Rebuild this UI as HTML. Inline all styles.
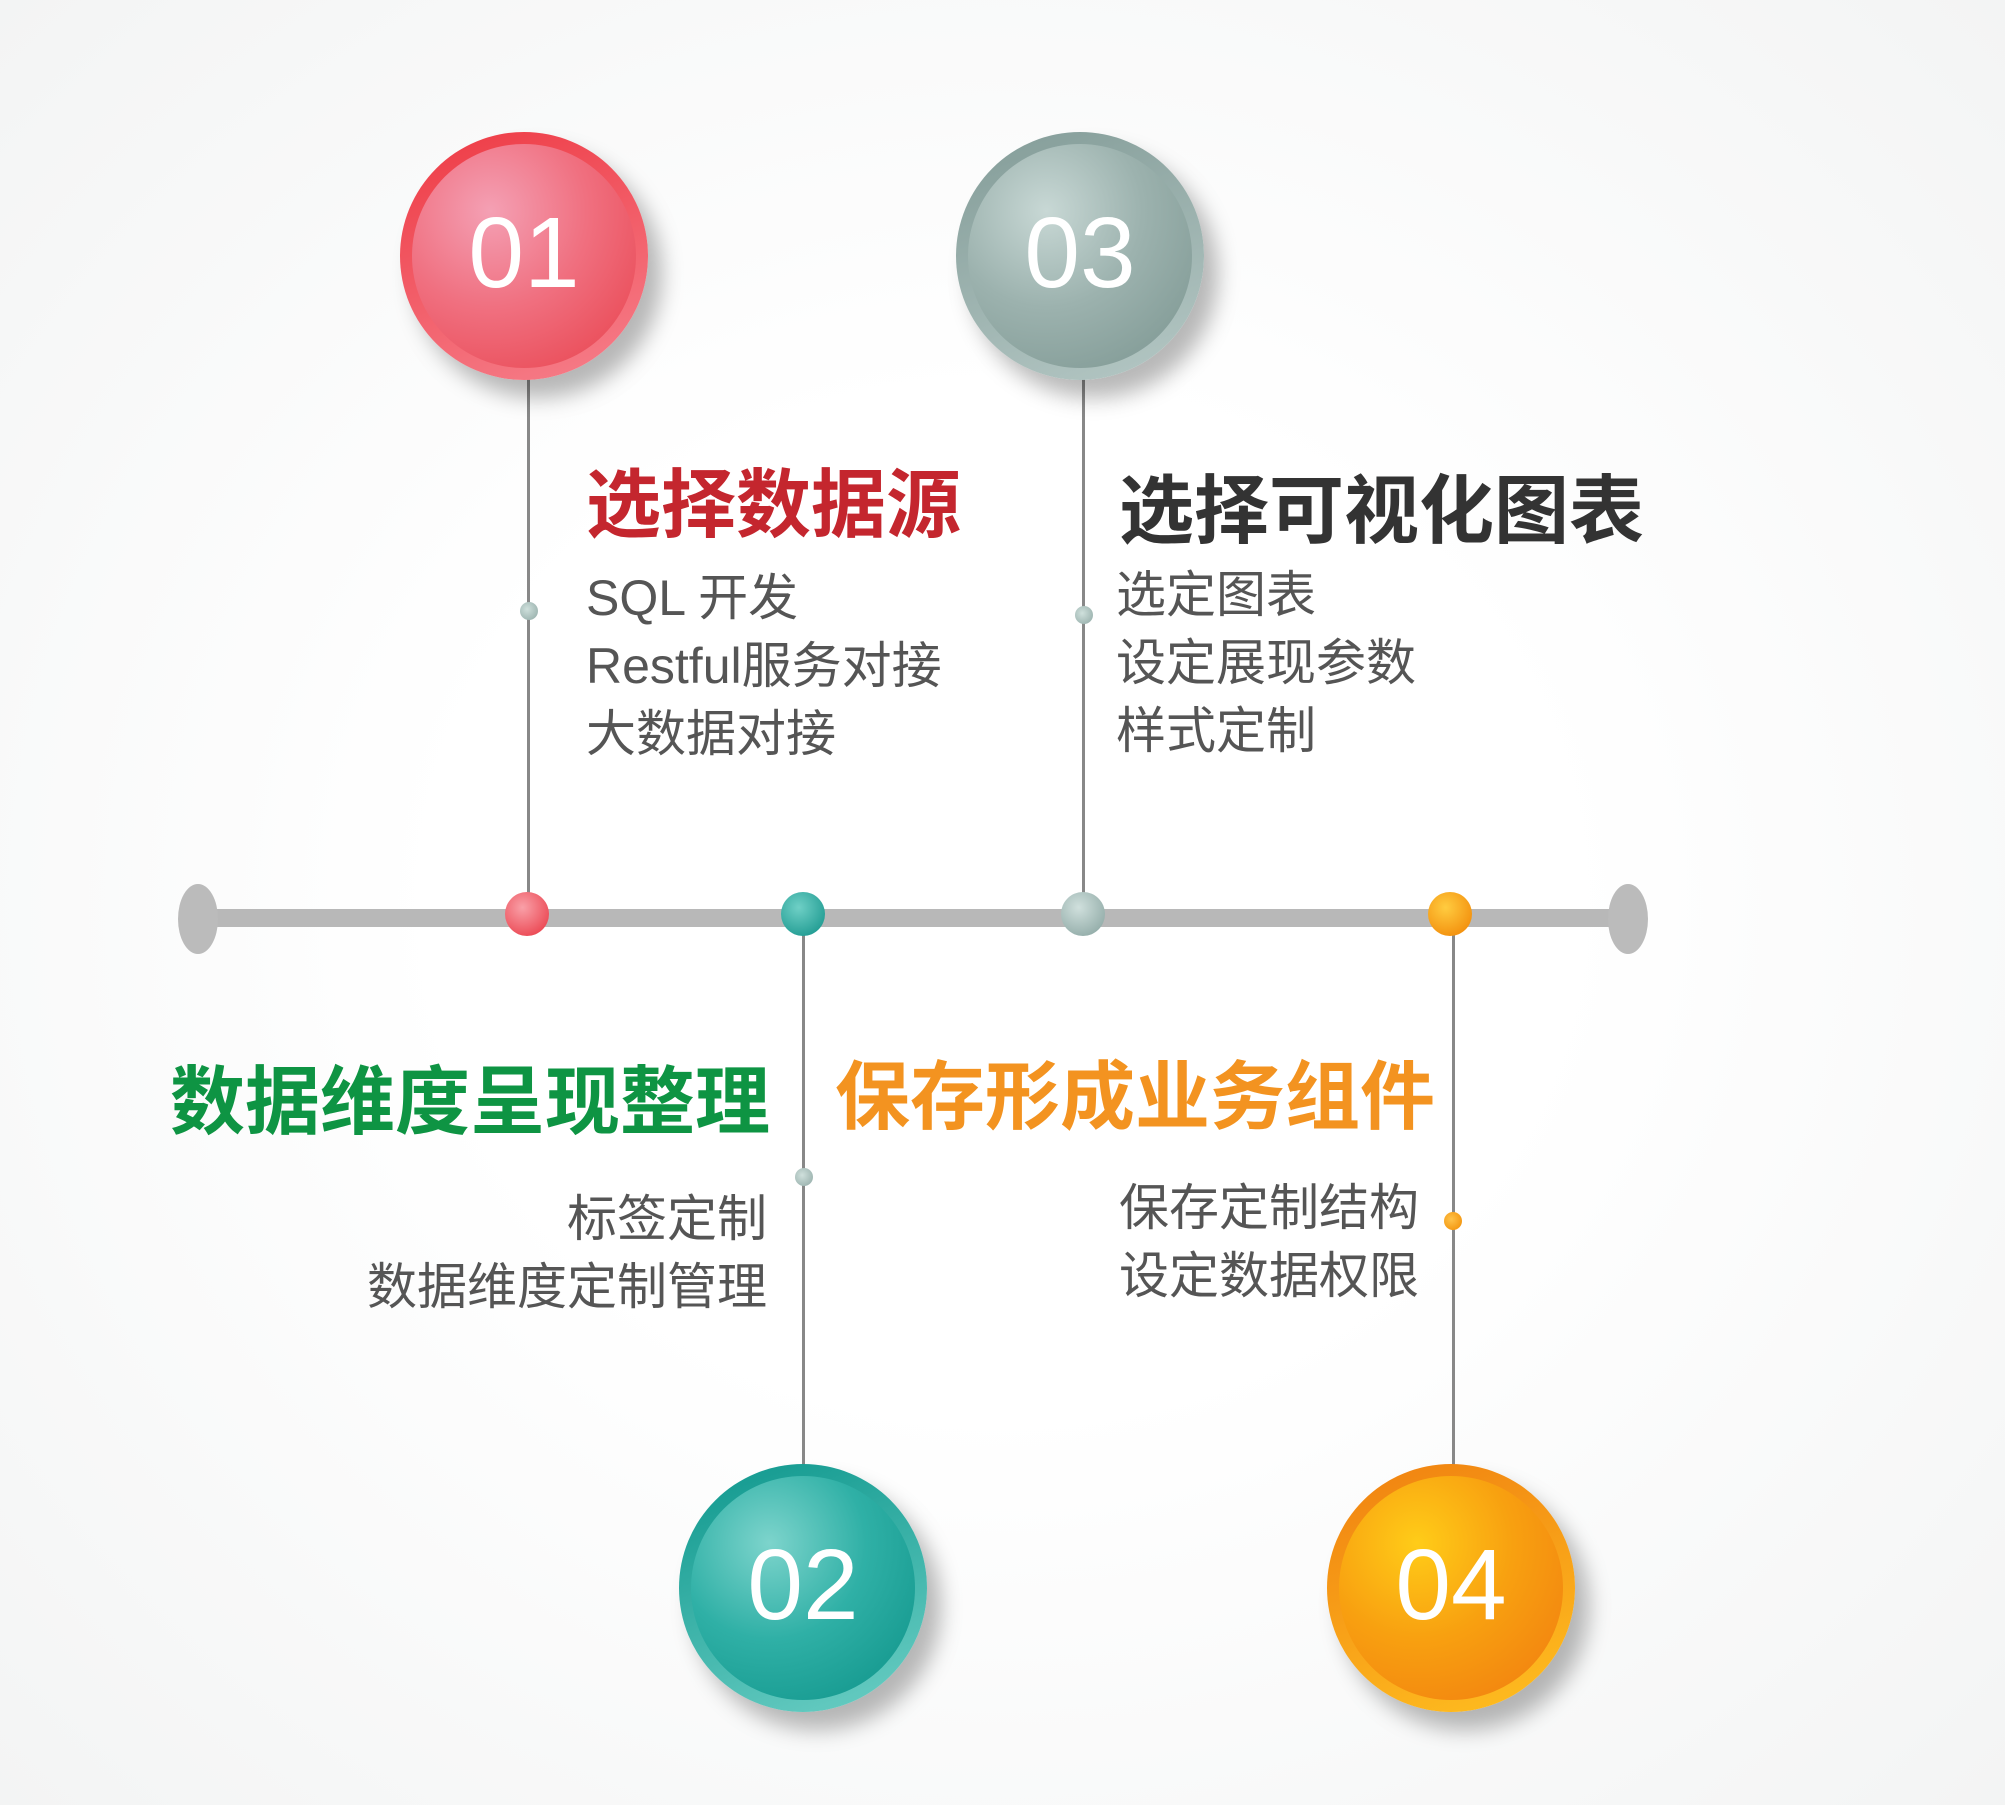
<!DOCTYPE html>
<html><head><meta charset="utf-8"><style>
html,body{margin:0;padding:0}
body{width:2005px;height:1805px;position:relative;overflow:hidden;background:radial-gradient(ellipse at 50% 50%,#ffffff 40%,#f3f4f4 100%);font-family:"Liberation Sans","Noto Sans CJK SC",sans-serif}
.t{position:absolute;white-space:nowrap;line-height:1}
.h{font-weight:bold;font-size:75px}
.i{font-size:50px;color:#555;line-height:68px}
.c{position:absolute;border-radius:50%;box-shadow:14px 18px 22px rgba(0,0,0,0.28)}
.c span{position:absolute;left:0;right:0;top:50%;transform:translateY(-52%);text-align:center;color:#fff;font-size:100px;font-family:"Liberation Sans",sans-serif;font-weight:normal}
.v{position:absolute;width:3px;background:#888}
.d{position:absolute;border-radius:50%}
</style></head><body>
<div style="position:absolute;left:198px;top:909px;width:1430px;height:18px;background:#b8b8b8"></div>
<div style="position:absolute;left:178px;top:884px;width:40px;height:70px;border-radius:50%;background:#bbb"></div>
<div style="position:absolute;left:1608px;top:884px;width:40px;height:70px;border-radius:50%;background:#bbb"></div>
<div class="v" style="left:527px;top:377px;height:537px"></div>
<div class="v" style="left:1082px;top:377px;height:537px"></div>
<div class="v" style="left:802px;top:914px;height:554px"></div>
<div class="v" style="left:1452px;top:914px;height:554px"></div>
<div class="d" style="left:520px;top:602px;width:18px;height:18px;background:radial-gradient(circle at 40% 40%,#cfe0dc,#8fa8a4)"></div>
<div class="d" style="left:1075px;top:606px;width:18px;height:18px;background:radial-gradient(circle at 40% 40%,#cfe0dc,#8fa8a4)"></div>
<div class="d" style="left:795px;top:1168px;width:18px;height:18px;background:radial-gradient(circle at 40% 40%,#cfe0dc,#8fa8a4)"></div>
<div class="d" style="left:1444px;top:1212px;width:18px;height:18px;background:radial-gradient(circle at 40% 40%,#ffc34a,#f08a00)"></div>
<div class="d" style="left:505px;top:892px;width:44px;height:44px;background:radial-gradient(circle at 40% 35%,#f9a0a8,#e8323e)"></div>
<div class="d" style="left:781px;top:892px;width:44px;height:44px;background:radial-gradient(circle at 40% 35%,#6fd0c6,#0e8f86)"></div>
<div class="d" style="left:1061px;top:892px;width:44px;height:44px;background:radial-gradient(circle at 40% 35%,#d0e0dd,#84a09c)"></div>
<div class="d" style="left:1428px;top:892px;width:44px;height:44px;background:radial-gradient(circle at 40% 35%,#ffcc40,#f08000)"></div>
<div class="c" style="left:400px;top:132px;width:248px;height:248px;background:linear-gradient(160deg,#ee3a44,#f6808c)"><div style="position:absolute;left:12px;top:12px;right:12px;bottom:12px;border-radius:50%;background:radial-gradient(circle at 35% 30%,#f4a0b4,#f07080 45%,#e8404a)"></div><span>01</span></div>
<div class="c" style="left:956px;top:132px;width:248px;height:248px;background:linear-gradient(160deg,#839c98,#b5c8c5)"><div style="position:absolute;left:12px;top:12px;right:12px;bottom:12px;border-radius:50%;background:radial-gradient(circle at 35% 30%,#c8d8d5,#9cb2ae 45%,#7a948f)"></div><span>03</span></div>
<div class="c" style="left:679px;top:1464px;width:248px;height:248px;background:linear-gradient(160deg,#0e978d,#6ccfc5)"><div style="position:absolute;left:12px;top:12px;right:12px;bottom:12px;border-radius:50%;background:radial-gradient(circle at 35% 30%,#7dd4cc,#2fb0a6 45%,#0c9187)"></div><span>02</span></div>
<div class="c" style="left:1327px;top:1464px;width:248px;height:248px;background:linear-gradient(160deg,#f08010,#ffc020)"><div style="position:absolute;left:12px;top:12px;right:12px;bottom:12px;border-radius:50%;background:radial-gradient(circle at 35% 30%,#ffcc18,#f8a010 45%,#f07a10)"></div><span>04</span></div>
<div class="t h" style="left:586px;top:468px;color:#c4262e">选择数据源</div>
<div class="t i" style="left:586px;top:564px">SQL 开发<br>Restful服务对接<br>大数据对接</div>
<div class="t h" style="left:1119px;top:474px;color:#333">选择可视化图表</div>
<div class="t i" style="left:1116px;top:561px">选定图表<br>设定展现参数<br>样式定制</div>
<div class="t h" style="right:1235px;top:1065px;color:#0e9443">数据维度呈现整理</div>
<div class="t i" style="right:1238px;top:1185px;text-align:right">标签定制<br>数据维度定制管理</div>
<div class="t h" style="left:835px;top:1060px;color:#f39320">保存形成业务组件</div>
<div class="t i" style="left:1119px;top:1174px">保存定制结构<br>设定数据权限</div>
</body></html>
